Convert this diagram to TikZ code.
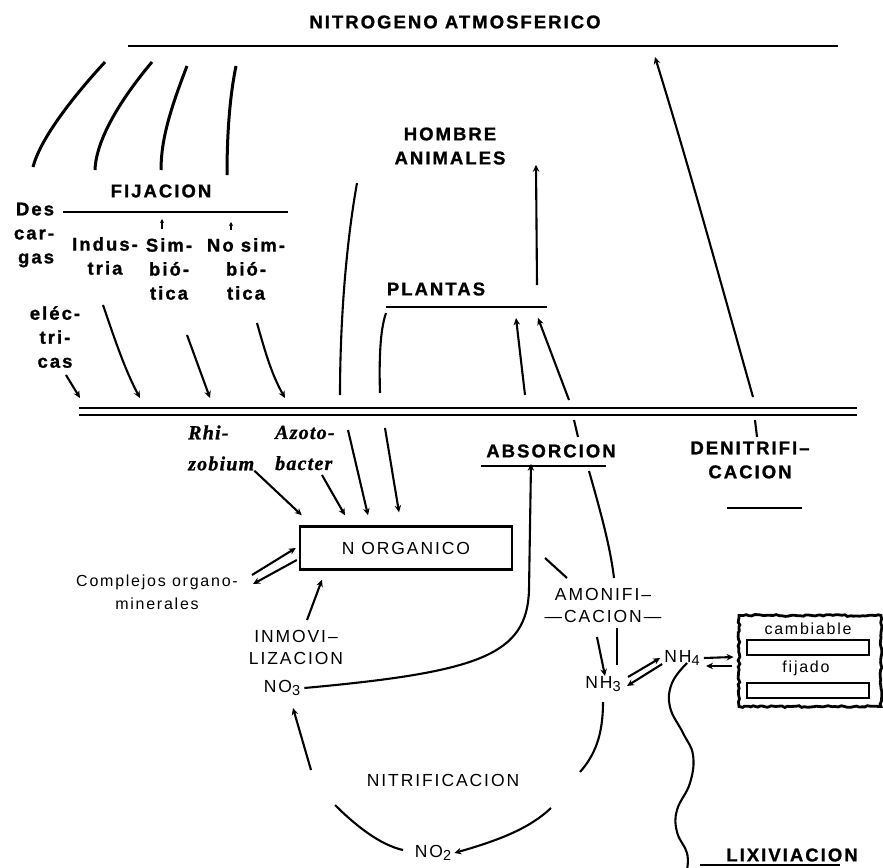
\documentclass[tikz,border=0pt]{standalone}
\usepackage{fontspec}
\setmainfont{Liberation Sans}
\newfontfamily\lblfont[LetterSpace=11, BoldFeatures={FakeBold=1.2}]{Liberation Sans}
\newfontfamily\bugfont[LetterSpace=6, BoldItalicFeatures={FakeBold=1}]{Liberation Serif}
\newcommand{\subnum}[1]{\raisebox{-3.5pt}{\fontsize{14.5}{14.5}\selectfont #1}}
\usetikzlibrary{arrows.meta,calc,decorations.pathmorphing}

\begin{document}
\begin{tikzpicture}[x=1pt,y=-1pt,
  bold/.style={font=\lblfont\fontsize{18.5}{24}\selectfont\bfseries, inner sep=0pt, align=center},
  plain/.style={font=\lblfont\fontsize{17.5}{22}\selectfont, inner sep=0pt, align=center},
  small/.style={font=\lblfont\fontsize{16}{23}\selectfont, inner sep=0pt, align=center},
  bug/.style={font=\bugfont\fontsize{20}{31}\selectfont\bfseries\itshape, inner sep=0pt, align=left, anchor=west},
  ln/.style={line width=2.4pt},
  fix/.style={line width=3pt},
  wire/.style={line width=2.1pt},
  arr/.style={-{Stealth[length=7pt,width=6.5pt]}, line width=2.1pt},
  tick/.style={-{Stealth[length=4pt,width=4pt]}, line width=1.6pt},
  slot/.style={draw, line width=2pt, minimum width=122pt, minimum height=15pt, inner sep=0pt},
  rough/.style={draw, line width=2.8pt, decorate, decoration={random steps, segment length=3pt, amplitude=0.9pt}}
]
\useasboundingbox (0,0) rectangle (883,867);

\node[bold] (atm) at (455,22) {NITROGENO ATMOSFERICO};
\node[bold] (fij) at (161,191) {FIJACION};
\node[bold, align=right] (des) at (34,235) {Des\\car-\\gas};
\node[bold] (elec) at (55,337) {eléc-\\tri-\\cas};
\node[bold] (ind) at (105,256) {Indus-\\tria};
\node[bold] (sim) at (169,269) {Sim-\\bió-\\tica};
\node[bold] (nosim) at (246,269) {No sim-\\bió-\\tica};
\node[bold] (hom) at (450,146) {HOMBRE\\ANIMALES};
\node[bold] (pla) at (436,289) {PLANTAS};
\node[bold] (abs) at (551,451) {ABSORCION};
\node[bold] (den) at (750,460) {DENITRIFI–\\CACION};
\node[plain, draw, line width=2.4pt, minimum width=212pt, minimum height=43pt] (norg) at (406,548) {N ORGANICO};
\node[bug] (rhi) at (188,448) {Rhi-\\zobium};
\node[bug] (azo) at (275,448) {Azoto-\\bacter};
\node[small] (comp) at (157,592) {Complejos organo-\\minerales};
\node[plain] (inm) at (296,647) {INMOVI–\\LIZACION};
\node[plain] (no3) at (282,688) {NO\subnum{3}};
\node[plain] (nit) at (443,780) {NITRIFICACION};
\node[plain] (no2) at (433,853) {NO\subnum{2}};
\node[plain] (amo) at (603,605) {AMONIFI–\\—CACION—};
\node[plain] (nh3) at (603,684) {NH\subnum{3}};
\node[plain] (nh4) at (682,658) {NH\subnum{4}};
\node[rough, minimum width=142pt, minimum height=91pt] (ex) at (810,661) {};
\node[small] (camb) at (808,629) {cambiable};
\node[slot] (cslot) at (808,647.5) {};
\node[small] (fija) at (806,668) {fijado};
\node[slot] (fslot) at (808,690) {};
\node[bold] (lix) at (792,855) {LIXIVIACION};

\draw[ln] (128,46) -- (838,46);
\draw[ln] (63,212) -- (288,212);
\draw[ln] (79,408) -- (857,408);
\draw[ln] (79,415) -- (857,415);
\draw[ln] (386,307) -- (547,307);
\draw[ln] (481,466) -- (606,466);
\draw[ln] (727,508) -- (802,508);
\draw[ln] (700,865) -- (840,865);

\draw[fix] (105,62) .. controls (70,100) and (40,140) .. (33,167);
\draw[fix] (152,62) .. controls (120,100) and (96,140) .. (95,170);
\draw[fix] (187,66) .. controls (170,110) and (161,140) .. (161,170);
\draw[fix] (236,66) .. controls (229,100) and (227,140) .. (227,175);
\draw[tick] (162,229) -- (162,219);
\draw[tick] (231,230) -- (231,222);

\draw[arr] (66,375) -- (80,398);
\draw[arr] (103,305) .. controls (115,340) and (125,370) .. (140,398);
\draw[arr] (187,335) -- (210,398);
\draw[arr] (257,323) .. controls (266,355) and (272,375) .. (285,398);

\draw[wire] (357,183) .. controls (345,250) and (340,330) .. (340,395);
\draw[wire] (386,313) .. controls (380,330) and (379,360) .. (380,393);
\draw[arr] (348,430) -- ([shift={(-38pt,10pt)}]norg.north);
\draw[arr] (385,428) -- ([shift={(-7pt,13pt)}]norg.north);
\draw[arr] (rhi.south east) -- ([shift={(3pt,10pt)}]norg.north west);
\draw[arr] (322,475) -- ([shift={(-61pt,10pt)}]norg.north);

\draw[arr] (537,285) -- (hom.south -| 536,0);
\draw[arr] (525,395) -- (516,318);
\draw[arr] (569,400) -- (538,318);
\draw[wire] (574,420) -- (578,437);
\draw[wire] (755,420) -- (757,437);
\draw[arr] (753,397) .. controls (720,280) and (690,170) .. (655,57);

\draw[arr] ([xshift=4pt]no3.east) .. controls (480,672) and (527,655) .. (529,590) -- ([shift={(-20pt,-6pt)}]abs.south);
\draw[wire] (589,471) .. controls (600,510) and (610,545) .. (614,578);
\draw[wire] (617,628) -- (617,665);
\draw[wire] (545,558) -- (567,578);
\draw[arr] (597,637) -- ([xshift=2pt]nh3.north);
\draw[arr] (628,677) -- ([xshift=-4pt]nh4.west);
\draw[arr] ([shift={(-2pt,-6pt)}]nh4.west) -- (627,686);
\draw[arr] ([xshift=4pt]nh4.east) -- ([shift={(-4pt,4pt)}]ex.west);
\draw[arr] ([shift={(-6pt,-5pt)}]ex.west) -- (706,666);
\draw[wire] plot[smooth, tension=0.7] coordinates {(687,663) (672,683) (670,707) (683,733) (693,755) (690,783) (677,810) (677,832) (687,853) (687,870)};

\draw[arr] (311,770) -- (293,708);
\draw[wire] (335,805) .. controls (355,825) and (380,845) .. (403,850);
\draw[arr] (551,808) .. controls (530,828) and (500,840) .. ([xshift=3pt]no2.east);
\draw[wire] (603,702) .. controls (603,735) and (595,755) .. (580,772);
\draw[arr] (307,620) -- ([shift={(-84pt,-9pt)}]norg.south);
\draw[arr] (252,575) -- ([shift={(-3pt,0pt)}]norg.west);
\draw[arr] ([shift={(-2pt,-12pt)}]norg.west) -- (253,584);
\end{tikzpicture}
\end{document}
